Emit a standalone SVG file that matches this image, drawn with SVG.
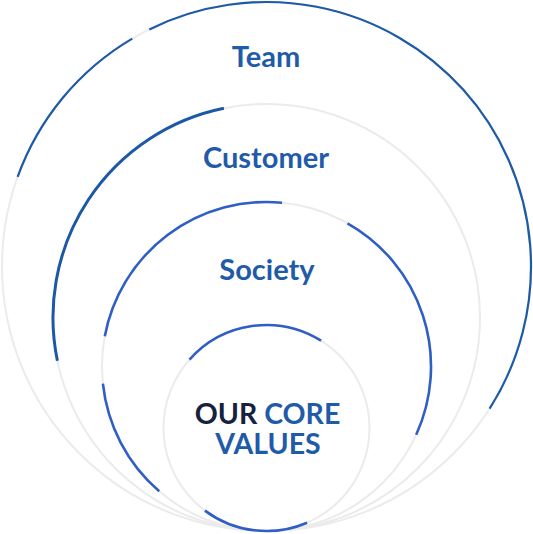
<svg xmlns="http://www.w3.org/2000/svg" width="533" height="534" viewBox="0 0 533 534">
<style>
.ring{fill:none;stroke:#ebebeb;stroke-width:2}
.arcA{fill:none;stroke:#1d5aa7;stroke-width:2.2}
.arcB{fill:none;stroke:#1d58a6;stroke-width:3}
.arcC{fill:none;stroke:#2f5ec6;stroke-width:2.6}
.lbl{font-family:Lato,"Liberation Sans",sans-serif;font-weight:700;font-size:29px;fill:#1f5ba8;text-anchor:middle}
.core{font-size:28.5px}
.dark{fill:#16213e}
</style>
<rect width="533" height="534" fill="#ffffff"/>
<g id="team">
<circle class="ring" cx="266.5" cy="266.5" r="264.5"/>
<path class="arcA" d="M149.3,29.4 A264.5,264.5 0 0 1 489.6,408.6"/>
<path class="arcA" d="M17.6,176.9 A264.5,264.5 0 0 1 132.3,38.6"/>
<text class="lbl" x="266" y="67">Team</text>
</g>
<g id="customer">
<circle class="ring" cx="266.5" cy="317.5" r="213.5"/>
<path class="arcB" d="M57.4,360.8 A213.5,213.5 0 0 1 223.9,108.3"/>
<text class="lbl" x="266" y="168">Customer</text>
</g>
<g id="society">
<circle class="ring" cx="266.5" cy="366.5" r="164.5"/>
<path class="arcC" d="M104.8,336.2 A164.5,164.5 0 0 1 282.0,202.7"/>
<path class="arcC" d="M347.5,223.3 A164.5,164.5 0 0 1 416.2,434.7"/>
<path class="arcC" d="M159.2,491.2 A164.5,164.5 0 0 1 102.9,383.7"/>
<text class="lbl" x="267" y="280">Society</text>
</g>
<g id="core">
<circle class="ring" cx="266.5" cy="428" r="103"/>
<path class="arcC" d="M189.5,359.6 A103,103 0 0 1 321.1,340.7"/>
<path class="arcC" d="M307.1,522.7 A103,103 0 0 1 204.9,510.6"/>
<text class="lbl core" x="267.5" y="424"><tspan class="dark">OUR</tspan> CORE</text>
<text class="lbl core" x="268" y="454">VALUES</text>
</g>
<g id="connectors"/>
</svg>
